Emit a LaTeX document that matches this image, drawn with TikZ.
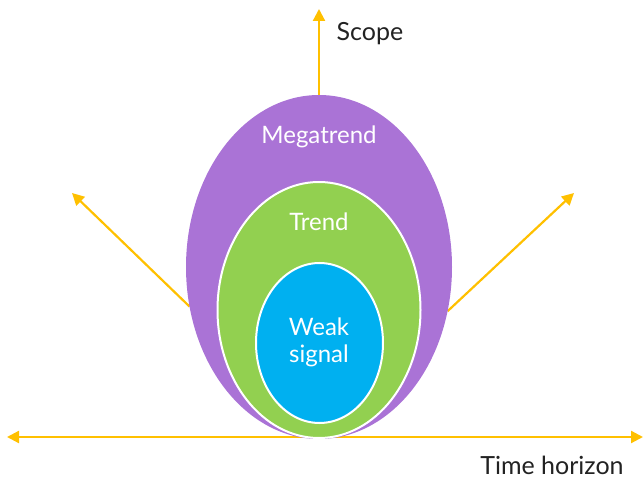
\documentclass[tikz,border=0pt]{standalone}
\usepackage{fontspec}
\setmainfont{Lato}
\usetikzlibrary{shapes.geometric,arrows.meta}
\definecolor{megacol}{HTML}{AA73D6}
\definecolor{trendcol}{HTML}{92D050}
\definecolor{weakcol}{HTML}{00B0F0}
\definecolor{arrcol}{HTML}{FFC000}
\definecolor{txtcol}{HTML}{222222}
\tikzset{
  axis/.style={draw=arrcol, line width=2.2pt, -{Triangle[length=12pt,width=12pt]}},
  axis2/.style={draw=arrcol, line width=2.2pt, {Triangle[length=12pt,width=12pt]}-{Triangle[length=12pt,width=12pt]}},
  oval/.style={ellipse, inner sep=0pt, outer sep=0pt},
  inlabel/.style={text=white, font=\fontsize{24}{27}\selectfont, align=center, inner sep=0pt},
  outlabel/.style={text=txtcol, font=\fontsize{25}{28}\selectfont, inner sep=0pt}
}
\begin{document}
\begin{tikzpicture}[x=1pt,y=-1pt]
\useasboundingbox (0,0) rectangle (643,478);
% shapes (positions only for outlines; drawn later)
\node[oval, minimum width=266pt, minimum height=344pt] (mega) at (319,267) {};
\coordinate (scopetip) at (319,9);
\coordinate (lefttip) at (72,193);
\coordinate (righttip) at (574,193);
\coordinate (timeL) at (7,437);
\coordinate (timeR) at (643,437);
% arrows
\draw[axis] (mega.north) -- (scopetip);
\draw[axis] (mega.197) -- (lefttip);
\draw[axis] (mega.-19) -- (righttip);
\draw[axis2] (timeL) -- (timeR);
% ellipses
\node[oval, fill=megacol, minimum width=266pt, minimum height=344pt] at (mega.center) {};
\node[oval, fill=trendcol, draw=white, line width=2pt, minimum width=203pt, minimum height=256pt] (trend) at (319,310) {};
\node[oval, fill=weakcol, draw=white, line width=2pt, minimum width=127pt, minimum height=160pt] (weak) at (319.5,343) {};
% labels
\node[inlabel] (megatxt) at (319,137) {Megatrend};
\node[inlabel] (trendtxt) at (319,222) {Trend};
\node[inlabel, font=\fontsize{24}{27}\selectfont] (weaktxt) at (319,342) {Weak\\signal};
\node[outlabel] (scopetxt) at (370,34) {Scope};
\node[outlabel] (timetxt) at (552,465) {Time horizon};
\end{tikzpicture}
\end{document}
